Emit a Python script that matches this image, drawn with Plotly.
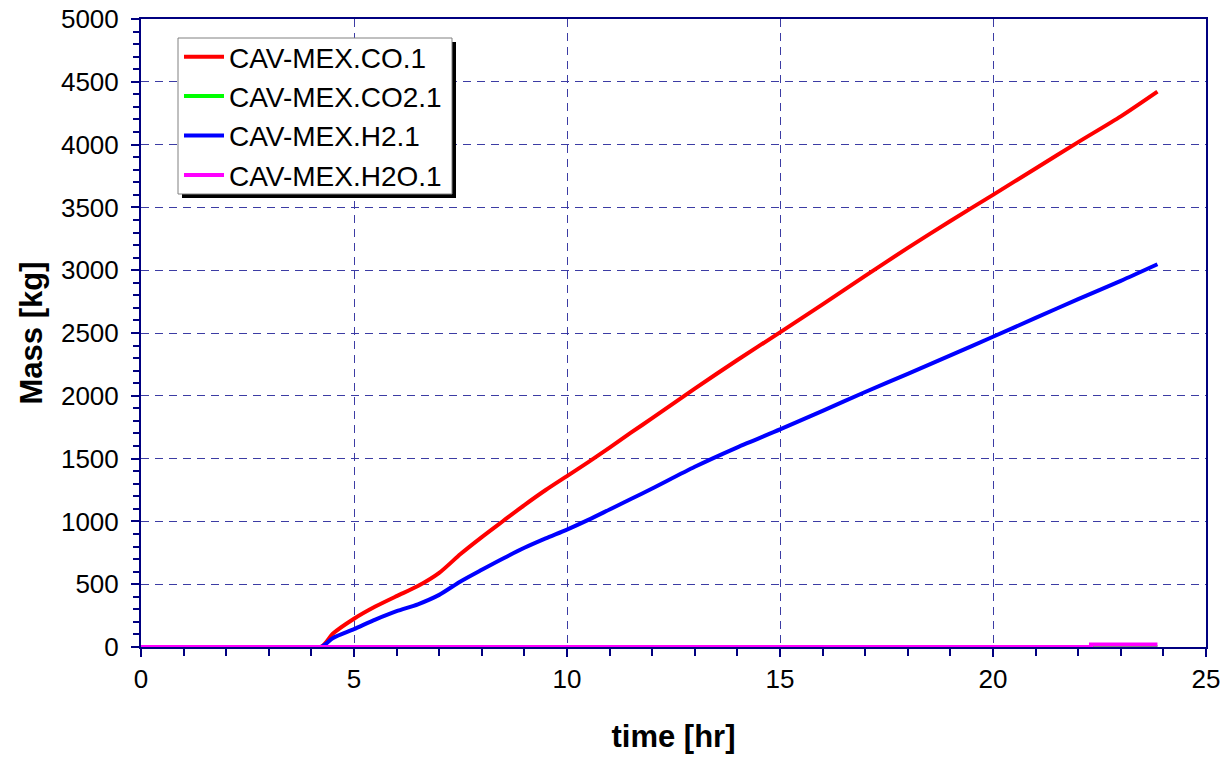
import plotly.graph_objects as go

# ---- data ----
time_hr = [0, 4.22, 4.5, 5.0, 5.5, 6.0, 6.5, 7.0, 7.5, 8.0, 8.5, 9.0, 9.5, 10.0, 10.5,
           11.0, 11.5, 12.0, 13.0, 14.0, 15.0, 16.0, 17.0, 18.0, 19.0, 20.0, 21.0,
           22.0, 23.0, 23.86]
mass_co = [0, 0, 105, 225, 322, 405, 485, 590, 740, 875, 1003, 1130, 1250, 1361, 1472,
           1588, 1706, 1822, 2058, 2285, 2505, 2728, 2955, 3178, 3392, 3600, 3810,
           4020, 4225, 4422]
mass_h2 = [0, 0, 70, 142, 218, 285, 340, 415, 522, 615, 705, 790, 865, 935, 1012,
           1095, 1178, 1262, 1435, 1590, 1732, 1880, 2030, 2175, 2322, 2470, 2620,
           2770, 2915, 3047]
time_co2 = [0, 23.86]
mass_co2 = [0, 0]
time_h2o = [0, 22.3, 22.3, 23.86]
mass_h2o = [0, 0, 20, 20]

series_names = ["CAV-MEX.CO.1", "CAV-MEX.CO2.1", "CAV-MEX.H2.1", "CAV-MEX.H2O.1"]
series_colors = ["#FF0000", "#00FF00", "#0000FF", "#FF00FF"]

x_range = [0, 25]
y_range = [0, 5000]

FONT = "Arial, 'Liberation Sans', sans-serif"
NAVY = "#000080"
GRID = "#3C3CA4"

fig = go.Figure()
data = [(time_hr, mass_co), (time_co2, mass_co2), (time_hr, mass_h2), (time_h2o, mass_h2o)]
shapes = ["spline", "linear", "spline", "linear"]
for (xs, ys), name, col, sh in zip(data, series_names, series_colors, shapes):
    line = dict(color=col, width=4, shape=sh)
    if sh == "spline":
        line["smoothing"] = 0.7
    fig.add_trace(go.Scatter(x=xs, y=ys, mode="lines", name=name, line=line))

W, H = 1225, 757
L, R, T, B = 141, 19, 19, 110
pw, ph = W - L - R, H - T - B

def px_x(p):
    return (p - L) / pw

def px_y(p):
    return (H - B - p) / ph

# legend box (shadow + white box) as shapes
lx0, lx1, ly0, ly1 = 178, 452, 38, 194
fig.add_shape(type="rect", xref="paper", yref="paper",
              x0=px_x(lx0 + 4), x1=px_x(lx1 + 4), y0=px_y(ly1 + 4), y1=px_y(ly0 + 4),
              fillcolor="black", line=dict(width=0), layer="above")
fig.add_shape(type="rect", xref="paper", yref="paper",
              x0=px_x(lx0), x1=px_x(lx1), y0=px_y(ly1), y1=px_y(ly0),
              fillcolor="white", line=dict(color="#808080", width=1), layer="above")

axis_common = dict(
    showline=True, linecolor=NAVY, linewidth=2, mirror=True,
    showgrid=True, gridcolor=GRID, griddash="8px,6px", gridwidth=1,
    ticks="outside", tickcolor=NAVY, ticklen=8, tickwidth=2,
    tickfont=dict(family=FONT, size=26, color="black"),
    zeroline=False, layer="below traces", automargin=False,
)

fig.update_layout(
    width=W, height=H,
    margin=dict(l=L, r=R, t=T, b=B, autoexpand=False),
    paper_bgcolor="white", plot_bgcolor="white",
    showlegend=True,
    legend=dict(x=px_x(lx0 + 1), y=px_y(ly0 - 6), xanchor="left", yanchor="top",
                bgcolor="rgba(0,0,0,0)", borderwidth=0,
                font=dict(family=FONT, size=28, color="black"),
                tracegroupgap=0, itemwidth=40),
    xaxis=dict(range=x_range, dtick=5, tick0=0,
               minor=dict(dtick=1, ticks="outside", ticklen=7, tickcolor=NAVY, showgrid=False),
               title=dict(text="<b>time [hr]</b>", font=dict(family=FONT, size=31, color="black"),
                          standoff=32),
               **axis_common),
    yaxis=dict(range=y_range, dtick=500, tick0=0, ticklabelstandoff=7,
               minor=dict(dtick=100, ticks="outside", ticklen=6, tickcolor=NAVY, showgrid=False),
               title=dict(text="<b>Mass [kg]</b>", font=dict(family=FONT, size=31, color="black"),
                          standoff=9),
               **axis_common),
)

fig.write_html("out.html")
